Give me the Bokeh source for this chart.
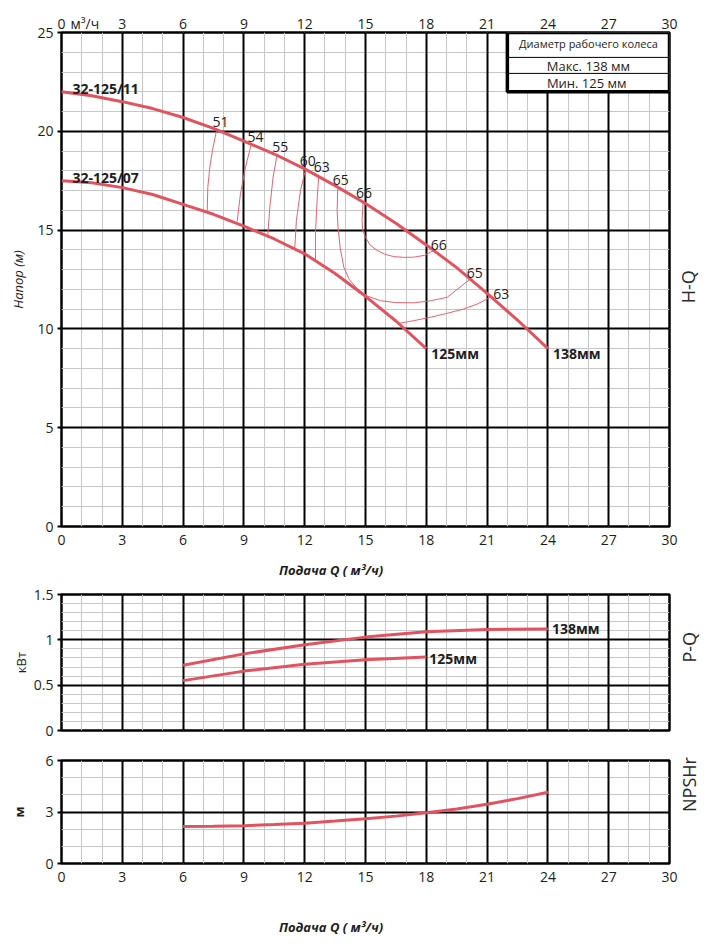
import math
from bokeh.plotting import figure
from bokeh.models import Range1d, SingleIntervalTicker, FixedTicker, LinearAxis, Grid
from bokeh.layouts import column
from bokeh.embed import file_html
from bokeh.resources import INLINE
from bokeh.core.properties import value

# ---------------- data ----------------
q_ticks = [0, 3, 6, 9, 12, 15, 18, 21, 24, 27, 30]
q_unit_tick = 1.15          # where "м³/ч" sits on the top scale
q_title_tick = 13.3         # centre of the "Подача Q" caption
q_title = "Подача Q ( м³/ч)"

# H-Q curves
q_hq138 = [0, 1.5, 3, 4.5, 6, 7.5, 9, 10.5, 12, 13.5, 15, 16.5, 18, 19.5, 21, 22.5, 24]
h_hq138 = [22.0, 21.8, 21.5, 21.15, 20.7, 20.15, 19.5, 18.85, 18.1, 17.25, 16.35, 15.35, 14.25, 13.1, 11.8, 10.45, 9.0]
q_hq125 = [0, 1.5, 3, 4.5, 6, 7.5, 9, 10.5, 12, 13.5, 15, 16.5, 18]
h_hq125 = [17.5, 17.4, 17.15, 16.8, 16.3, 15.8, 15.2, 14.55, 13.8, 12.8, 11.65, 10.4, 9.0]

# efficiency contours (%)
eff51_q = [7.65, 7.45, 7.32, 7.22, 7.19]
eff51_h = [20.05, 19.04, 18.19, 17.17, 15.98]
eff54_q = [9.37, 9.08, 8.83, 8.67]
eff54_h = [19.37, 18.19, 16.84, 15.45]
eff55_q = [10.64, 10.44, 10.28, 10.18]
eff55_h = [18.83, 17.68, 16.16, 14.76]
eff60_q = [12.05, 11.79, 11.59, 11.51]
eff60_h = [18.1, 17.0, 15.49, 14.08]
eff63a_q = [12.69, 12.61, 12.53, 12.53]
eff63a_h = [17.72, 16.5, 14.81, 13.5]
eff65_q = [13.63, 13.6, 13.64, 13.75, 13.93, 14.2, 14.59, 15.1, 15.74, 16.5, 17.38, 18.2, 19.03, 20.14]
eff65_h = [17.09, 15.99, 15.2, 14.1, 13.12, 12.5, 12.03, 11.66, 11.43, 11.33, 11.32, 11.42, 11.6, 12.5]
eff66_q = [14.88, 14.83, 14.86, 15.0, 15.22, 15.57, 15.95, 16.39, 16.9, 17.38, 17.9, 18.37]
eff66_h = [16.41, 15.49, 15.0, 14.64, 14.25, 13.97, 13.78, 13.66, 13.62, 13.63, 13.72, 13.97]
eff63b_q = [16.64, 17.4, 18.2, 19.0, 19.85, 20.5, 21.16]
eff63b_h = [10.28, 10.42, 10.59, 10.78, 11.01, 11.25, 11.6]
eff_top_labels = ["51", "54", "55", "60", "63", "65", "66"]
eff_right_labels = ["66", "65", "63"]

# P-Q curves (kW)
q_pq138 = [6, 9, 12, 15, 18, 21, 24]
p_pq138 = [0.72, 0.845, 0.945, 1.03, 1.09, 1.115, 1.12]
q_pq125 = [6, 9, 12, 15, 18]
p_pq125 = [0.55, 0.655, 0.73, 0.78, 0.81]

# NPSHr (m)
q_npsh = [6, 7.5, 9, 10.5, 12, 13.5, 15, 16.5, 18, 19.5, 21, 22.5, 24]
h_npsh = [2.15, 2.17, 2.2, 2.27, 2.35, 2.47, 2.6, 2.76, 2.95, 3.18, 3.45, 3.78, 4.15]

model_labels = ["32-125/11", "32-125/07"]
dia_labels = ["138мм", "125мм"]
table_texts = ["Диаметр рабочего колеса", "Макс. 138 мм", "Мин.  125 мм"]

# ---------------- style ----------------
FONT = "Open Sans"
RED = "#e2525f"
THIN = "#e5636f"
MINOR = "#c6c6cc"
TXT = "#1e1e22"
W = 717
LEFT = 61
RIGHT = 48


def base_fig(height, y_max, y_int, y_minor, top, bottom):
    p = figure(width=W, height=height, x_range=Range1d(0, 30), y_range=Range1d(0, y_max),
               output_backend="svg", toolbar_location=None,
               x_axis_location=None, y_axis_location=None,
               min_border_left=LEFT, min_border_right=RIGHT,
               min_border_top=top, min_border_bottom=bottom)
    p.center = [r for r in p.center if not isinstance(r, Grid)]
    p.outline_line_color = "black"
    p.outline_line_width = 2.5
    p.background_fill_color = "white"
    p.border_fill_color = "white"
    xt = SingleIntervalTicker(interval=3, num_minor_ticks=3)
    yt = SingleIntervalTicker(interval=y_int, num_minor_ticks=y_minor)
    for dim, t in ((0, xt), (1, yt)):
        p.add_layout(Grid(dimension=dim, ticker=t, grid_line_color=None,
                          minor_grid_line_color=MINOR, minor_grid_line_width=1), "center")
    for dim, t in ((0, xt), (1, yt)):
        p.add_layout(Grid(dimension=dim, ticker=t, grid_line_color="black",
                          grid_line_width=2), "center")
    return p, xt, yt


def style_axis(ax, size="14px"):
    ax.axis_line_color = None
    ax.minor_tick_line_color = None
    ax.major_tick_in = 0
    ax.major_label_text_font = FONT
    ax.major_label_text_font_size = size
    ax.major_label_text_color = TXT
    ax.axis_label_text_font = FONT
    ax.axis_label_text_font_size = "13px"
    ax.axis_label_text_color = TXT


def left_axis(p, yt, label, style, standoff):
    ax = LinearAxis(ticker=yt, axis_label=label)
    style_axis(ax)
    ax.major_tick_out = 4
    ax.major_tick_line_color = "black"
    ax.major_tick_line_width = 2
    ax.major_label_standoff = 4
    ax.axis_label_text_font_style = style
    ax.axis_label_standoff = standoff
    p.add_layout(ax, "left")


def x_axis(p, ticks, side, standoff, overrides=None):
    ax = LinearAxis(ticker=FixedTicker(ticks=ticks))
    style_axis(ax)
    ax.major_tick_out = 0
    ax.major_tick_line_color = None
    ax.major_label_standoff = standoff
    if overrides:
        ax.major_label_overrides = overrides
    p.add_layout(ax, side)


def q_caption(p, standoff):
    ax = LinearAxis(ticker=FixedTicker(ticks=[q_title_tick]))
    style_axis(ax, "13px")
    ax.major_tick_out = 0
    ax.major_tick_line_color = None
    ax.major_label_standoff = standoff
    ax.major_label_text_font_style = "bold italic"
    ax.major_label_overrides = {q_title_tick: q_title}
    p.add_layout(ax, "below")


def side_title(p, text, y):
    ax = LinearAxis(ticker=FixedTicker(ticks=[y]))
    style_axis(ax, "18px")
    ax.major_label_text_color = "#2a2a2e"
    ax.major_tick_out = 0
    ax.major_tick_line_color = None
    ax.major_label_standoff = 19
    ax.major_label_orientation = math.pi / 2
    ax.major_label_overrides = {y: text}
    p.add_layout(ax, "right")


# ---------------- H-Q ----------------
p1, xt1, yt1 = base_fig(584, 25, 5, 5, 32, 58)
left_axis(p1, yt1, "Напор (м)", "italic", 7)
x_axis(p1, q_ticks, "below", 8)
q_caption(p1, 13)
x_axis(p1, q_ticks + [q_unit_tick], "above", 0, {q_unit_tick: "м³/ч"})
side_title(p1, "H-Q", 11.3)

eff_q = [eff51_q, eff54_q, eff55_q, eff60_q, eff63a_q, eff65_q, eff66_q, eff63b_q]
eff_h = [eff51_h, eff54_h, eff55_h, eff60_h, eff63a_h, eff65_h, eff66_h, eff63b_h]
p1.multi_line(xs=eff_q, ys=eff_h, line_color=THIN, line_width=1)

p1.line(q_hq138, h_hq138, line_color=RED, line_width=3)
p1.line(q_hq125, h_hq125, line_color=RED, line_width=3)

# efficiency labels anchored at contour ends
top_src = [eff51_q, eff54_q, eff55_q, eff60_q, eff63a_q, eff65_q, eff66_q]
top_srh = [eff51_h, eff54_h, eff55_h, eff60_h, eff63a_h, eff65_h, eff66_h]
p1.text(x=[a[0] for a in top_src], y=[a[0] for a in top_srh], text=eff_top_labels,
        x_offset=[-4, -4, -5, -6, -5, -5, -7], y_offset=[-8, -7, -7, -8, -9, -9, -9],
        text_align="left", text_baseline="alphabetic", text_font=value(FONT),
        text_font_size="14px", text_color=TXT)
r_src = [eff66_q, eff65_q, eff63b_q]
r_srh = [eff66_h, eff65_h, eff63b_h]
p1.text(x=[a[-1] for a in r_src], y=[a[-1] for a in r_srh], text=eff_right_labels,
        x_offset=[-3, -3, 3], y_offset=[-5, -7, -3],
        text_align="left", text_baseline="alphabetic", text_font=value(FONT),
        text_font_size="14px", text_color=TXT)

# model labels at curve starts
p1.text(x=[q_hq138[0], q_hq125[0]], y=[h_hq138[0], h_hq125[0]], text=model_labels,
        x_offset=11, y_offset=-3, text_align="left", text_baseline="alphabetic",
        text_font=value(FONT), text_font_style="bold", text_font_size="14px", text_color=TXT)
# diameter labels at curve ends
p1.text(x=[q_hq138[-1], q_hq125[-1]], y=[h_hq138[-1], h_hq125[-1]], text=dia_labels,
        x_offset=5, y_offset=5, text_align="left", text_baseline="middle",
        text_font=value(FONT), text_font_style="bold", text_font_size="14px", text_color=TXT)

# impeller diameter table
p1.quad(left=22, right=30, bottom=22, top=25, fill_color="white", line_color="black",
        line_width=3.5)
p1.segment(x0=[22, 22], y0=[23.74, 22.93], x1=[30, 30], y1=[23.74, 22.93],
           line_color="black", line_width=1)
p1.text(x=[26], y=[24.44], text=table_texts[:1], text_align="center", text_baseline="middle",
        text_font=value(FONT), text_font_size="11px", text_color=TXT)
p1.text(x=[26, 26], y=[23.32, 22.46], text=table_texts[1:], text_align="center",
        text_baseline="middle", text_font=value(FONT), text_font_size="13px", text_color=TXT)

# ---------------- P-Q ----------------
p2, xt2, yt2 = base_fig(161, 1.5, 0.5, 5, 10, 15)
left_axis(p2, yt2, "кВт", "normal", 1)
side_title(p2, "P-Q", 0.75)
p2.line(q_pq138, p_pq138, line_color=RED, line_width=3)
p2.line(q_pq125, p_pq125, line_color=RED, line_width=3)
p2.text(x=[q_pq138[-1], q_pq125[-1]], y=[p_pq138[-1], p_pq125[-1]], text=dia_labels,
        x_offset=[4, 3], y_offset=[0, 1], text_align="left", text_baseline="middle",
        text_font=value(FONT), text_font_style="bold", text_font_size="14px", text_color=TXT)

# ---------------- NPSHr ----------------
p3, xt3, yt3 = base_fig(198, 6, 3, 3, 15, 80)
left_axis(p3, yt3, "м", "bold", 14)
x_axis(p3, q_ticks, "below", 8)
q_caption(p3, 33)
side_title(p3, "NPSHr", 3.0)
p3.line(q_npsh, h_npsh, line_color=RED, line_width=3)

layout = column(p1, p2, p3, spacing=0)
open("out.html", "w").write(file_html(layout, INLINE))
